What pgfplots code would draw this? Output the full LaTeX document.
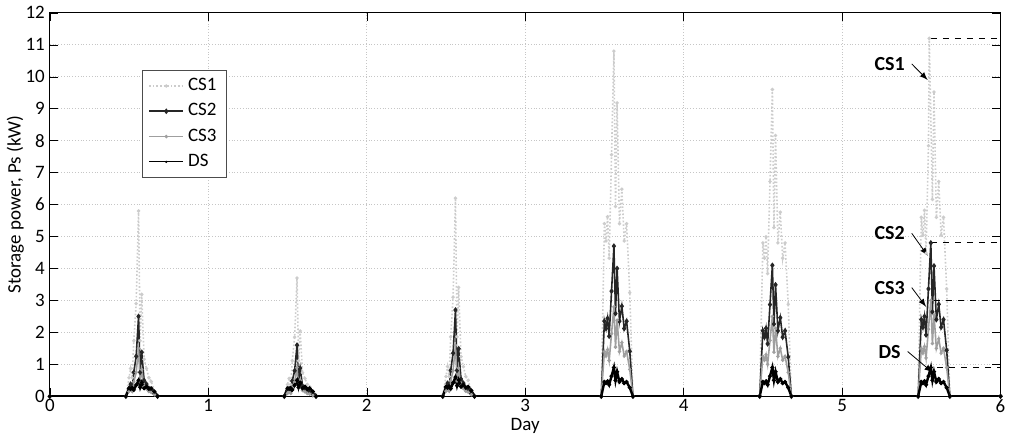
\documentclass[border=0pt]{standalone}
\usepackage{pgfplots}
\pgfplotsset{compat=1.18}
\usepackage{fontspec}
\setmainfont{Carlito}
\begin{document}
\begin{tikzpicture}[x=1pt,y=1pt]
\begin{axis}[
 scale only axis, width=476pt, height=192pt,
 xmin=0,xmax=6,ymin=0,ymax=12,
 xtick={0,...,6}, ytick={0,...,12},
 grid=major, grid style={densely dotted, gray!45},
 tick align=inside, tick style={black},
 xlabel={Day}, ylabel={Storage power, Ps (kW)},
 xlabel style={yshift=4pt}, ylabel style={yshift=-6pt},
 font=\fontsize{9.5}{10}\selectfont,
 xticklabel style={yshift=2pt}, yticklabel style={xshift=1pt},
 /pgf/number format/assume math mode=true,
 legend style={at={(0.097,0.851)},anchor=north west, draw=black!70, font=\fontsize{9.5}{11}\selectfont, row sep=1pt},
 legend cell align=left,
]
\addplot[gray!40, densely dotted, thick, mark=*, mark size=0.4pt, mark options={solid}] coordinates {
(0,0)(0.48,0)(0.50,0.58)(0.51,0.87)(0.52,0.58)(0.53,1.74)(0.545,2.9)(0.56,5.8)(0.57,1.74)(0.58,3.19)(0.595,1.16)(0.61,0.87)(0.625,0.58)(0.64,0.46)(0.66,0.17)(0.68,0)
(1.48,0)(1.50,0.37)(1.51,0.56)(1.52,0.37)(1.53,1.11)(1.545,1.85)(1.56,3.7)(1.57,1.11)(1.58,2.04)(1.595,0.74)(1.61,0.56)(1.625,0.37)(1.64,0.3)(1.66,0.11)(1.68,0)
(2.48,0)(2.50,0.62)(2.51,0.93)(2.52,0.62)(2.53,1.86)(2.545,3.1)(2.56,6.2)(2.57,1.86)(2.58,3.41)(2.595,1.24)(2.61,0.93)(2.625,0.62)(2.64,0.5)(2.66,0.19)(2.68,0)
(3.48,0)(3.50,5.4)(3.51,4.86)(3.52,5.62)(3.53,4.32)(3.545,7.56)(3.56,10.8)(3.57,5.94)(3.58,9.18)(3.595,5.4)(3.61,6.48)(3.625,4.86)(3.64,5.4)(3.66,3.24)(3.68,0)
(4.48,0)(4.50,4.8)(4.51,4.32)(4.52,4.99)(4.53,3.84)(4.545,6.72)(4.56,9.6)(4.57,5.28)(4.58,8.16)(4.595,4.8)(4.61,5.76)(4.625,4.32)(4.64,4.8)(4.66,2.88)(4.68,0)
(5.48,0)(5.50,5.6)(5.51,5.04)(5.52,5.82)(5.53,4.48)(5.545,7.84)(5.55,11.2)(5.57,6.16)(5.58,9.52)(5.595,5.6)(5.61,6.72)(5.625,5.04)(5.64,5.6)(5.66,3.36)(5.68,0)(6,0)};
\addlegendentry{CS1}
\addplot[black!85, thick, mark=diamond*, mark size=0.8pt] coordinates {
(0,0)(0.48,0)(0.50,0.25)(0.51,0.38)(0.52,0.25)(0.53,0.75)(0.545,1.25)(0.56,2.5)(0.57,0.75)(0.58,1.38)(0.595,0.5)(0.61,0.38)(0.625,0.25)(0.64,0.2)(0.66,0.08)(0.68,0)
(1.48,0)(1.50,0.16)(1.51,0.24)(1.52,0.16)(1.53,0.48)(1.545,0.8)(1.56,1.6)(1.57,0.48)(1.58,0.88)(1.595,0.32)(1.61,0.24)(1.625,0.16)(1.64,0.13)(1.66,0.05)(1.68,0)
(2.48,0)(2.50,0.27)(2.51,0.41)(2.52,0.27)(2.53,0.81)(2.545,1.35)(2.56,2.7)(2.57,0.81)(2.58,1.49)(2.595,0.54)(2.61,0.41)(2.625,0.27)(2.64,0.22)(2.66,0.08)(2.68,0)
(3.48,0)(3.50,2.35)(3.51,2.12)(3.52,2.44)(3.53,1.88)(3.545,3.29)(3.56,4.7)(3.57,2.59)(3.58,4.0)(3.595,2.35)(3.61,2.82)(3.625,2.12)(3.64,2.35)(3.66,1.41)(3.68,0)
(4.48,0)(4.50,2.05)(4.51,1.85)(4.52,2.13)(4.53,1.64)(4.545,2.87)(4.56,4.1)(4.57,2.26)(4.58,3.49)(4.595,2.05)(4.61,2.46)(4.625,1.85)(4.64,2.05)(4.66,1.23)(4.68,0)
(5.48,0)(5.50,2.4)(5.51,2.16)(5.52,2.5)(5.53,1.92)(5.545,3.36)(5.56,4.8)(5.57,2.64)(5.58,4.08)(5.595,2.4)(5.61,2.88)(5.625,2.16)(5.64,2.4)(5.66,1.44)(5.68,0)(6,0)};
\addlegendentry{CS2}
\addplot[gray!75, thick, mark=*, mark size=0.4pt] coordinates {
(0,0)(0.48,0)(0.50,0.15)(0.51,0.23)(0.52,0.15)(0.53,0.45)(0.545,0.75)(0.56,1.5)(0.57,0.45)(0.58,0.83)(0.595,0.3)(0.61,0.23)(0.625,0.15)(0.64,0.12)(0.66,0.05)(0.68,0)
(1.48,0)(1.50,0.09)(1.51,0.14)(1.52,0.09)(1.53,0.27)(1.545,0.45)(1.56,0.9)(1.57,0.27)(1.58,0.5)(1.595,0.18)(1.61,0.14)(1.625,0.09)(1.64,0.07)(1.66,0.03)(1.68,0)
(2.48,0)(2.50,0.16)(2.51,0.24)(2.52,0.16)(2.53,0.48)(2.545,0.8)(2.56,1.6)(2.57,0.48)(2.58,0.88)(2.595,0.32)(2.61,0.24)(2.625,0.16)(2.64,0.13)(2.66,0.05)(2.68,0)
(3.48,0)(3.50,1.4)(3.51,1.26)(3.52,1.46)(3.53,1.12)(3.545,1.96)(3.56,2.8)(3.57,1.54)(3.58,2.38)(3.595,1.4)(3.61,1.68)(3.625,1.26)(3.64,1.4)(3.66,0.84)(3.68,0)
(4.48,0)(4.50,1.25)(4.51,1.13)(4.52,1.3)(4.53,1.0)(4.545,1.75)(4.56,2.5)(4.57,1.38)(4.58,2.13)(4.595,1.25)(4.61,1.5)(4.625,1.13)(4.64,1.25)(4.66,0.75)(4.68,0)
(5.48,0)(5.50,1.5)(5.51,1.35)(5.52,1.56)(5.53,1.2)(5.545,2.1)(5.56,3.0)(5.57,1.65)(5.58,2.55)(5.595,1.5)(5.61,1.8)(5.625,1.35)(5.64,1.5)(5.66,0.9)(5.68,0)(6,0)};
\addlegendentry{CS3}
\addplot[black, very thick, mark=*, mark size=0.3pt, legend image post style={thin}] coordinates {
(0,0)(0.48,0)(0.50,0.25)(0.51,0.23)(0.52,0.26)(0.53,0.2)(0.545,0.35)(0.56,0.5)(0.57,0.28)(0.58,0.43)(0.595,0.25)(0.61,0.3)(0.625,0.23)(0.64,0.25)(0.66,0.15)(0.68,0)
(1.48,0)(1.50,0.25)(1.51,0.23)(1.52,0.26)(1.53,0.2)(1.545,0.35)(1.56,0.5)(1.57,0.28)(1.58,0.43)(1.595,0.25)(1.61,0.3)(1.625,0.23)(1.64,0.25)(1.66,0.15)(1.68,0)
(2.48,0)(2.50,0.3)(2.51,0.27)(2.52,0.31)(2.53,0.24)(2.545,0.42)(2.56,0.6)(2.57,0.33)(2.58,0.51)(2.595,0.3)(2.61,0.36)(2.625,0.27)(2.64,0.3)(2.66,0.18)(2.68,0)
(3.48,0)(3.50,0.45)(3.51,0.41)(3.52,0.47)(3.53,0.36)(3.545,0.63)(3.56,0.9)(3.57,0.5)(3.58,0.77)(3.595,0.45)(3.61,0.54)(3.625,0.41)(3.64,0.45)(3.66,0.27)(3.68,0)
(4.48,0)(4.50,0.45)(4.51,0.41)(4.52,0.47)(4.53,0.36)(4.545,0.63)(4.56,0.9)(4.57,0.5)(4.58,0.77)(4.595,0.45)(4.61,0.54)(4.625,0.41)(4.64,0.45)(4.66,0.27)(4.68,0)
(5.48,0)(5.50,0.45)(5.51,0.41)(5.52,0.47)(5.53,0.36)(5.545,0.63)(5.56,0.9)(5.57,0.5)(5.58,0.77)(5.595,0.45)(5.61,0.54)(5.625,0.41)(5.64,0.45)(5.66,0.27)(5.68,0)(6,0)};
\addlegendentry{DS}
\addplot[black, dashed, forget plot] coordinates {(5.56,11.2)(6,11.2)};
\addplot[black, dashed, forget plot] coordinates {(5.56,4.8)(6,4.8)};
\addplot[black, dashed, forget plot] coordinates {(5.58,3.0)(6,3.0)};
\addplot[black, dashed, forget plot] coordinates {(5.6,0.9)(6,0.9)};
\node[font=\bfseries\fontsize{10}{11}\selectfont] (a) at (axis cs:5.3,10.4) {CS1};
\draw[-latex] (a.east) -- (axis cs:5.54,9.9);
\node[font=\bfseries\fontsize{10}{11}\selectfont] (b) at (axis cs:5.3,5.1) {CS2};
\draw[-latex] (b.east) -- (axis cs:5.54,4.4);
\node[font=\bfseries\fontsize{10}{11}\selectfont] (c) at (axis cs:5.3,3.4) {CS3};
\draw[-latex] (c.east) -- (axis cs:5.53,2.8);
\node[font=\bfseries\fontsize{10}{11}\selectfont] (d) at (axis cs:5.3,1.4) {DS};
\draw[-latex] (d.east) -- (axis cs:5.57,0.75);
\end{axis}
\end{tikzpicture}
\end{document}
